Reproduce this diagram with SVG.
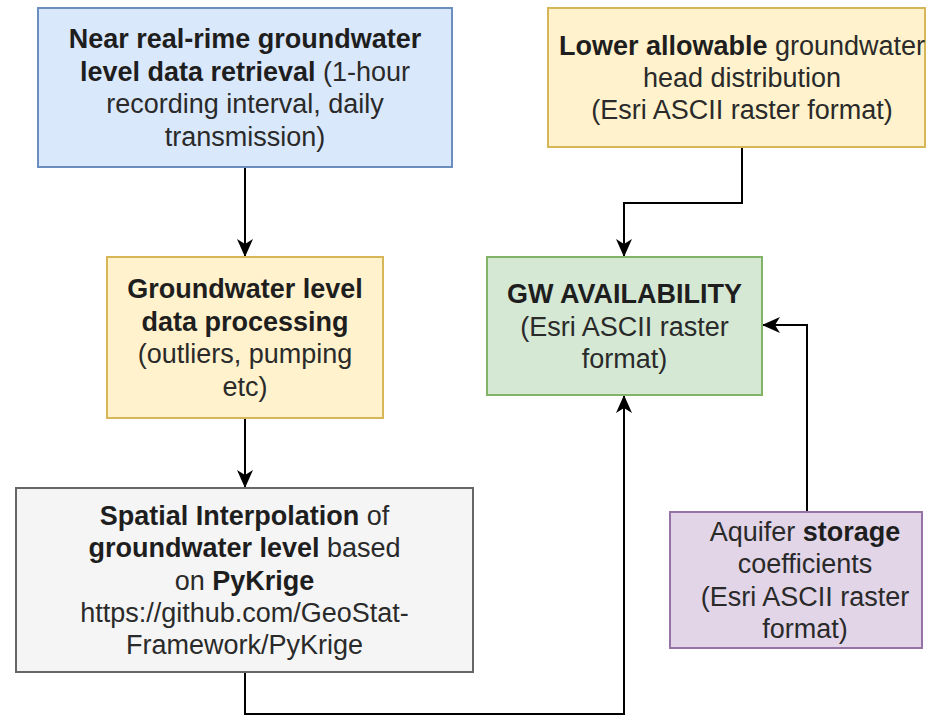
<svg xmlns="http://www.w3.org/2000/svg" width="927" height="716" viewBox="0 0 927 716">
  <defs>
    <style>
      .t { font-family: "Liberation Sans", Arial, Helvetica, sans-serif; font-size: 27px; fill: #2a2a2a; text-anchor: middle; }
      .b { font-weight: bold; fill: #1e1e1e; }
      .box { stroke-width: 2; }
      .blue { fill: #dae8fc; stroke: #6c8ebf; }
      .yellow { fill: #fff2cc; stroke: #d6b656; }
      .green { fill: #d5e8d4; stroke: #82b366; }
      .gray { fill: #f5f5f5; stroke: #666666; }
      .purple { fill: #e1d5e7; stroke: #9673a6; }
      .edge { fill: none; stroke: #000; stroke-width: 2; }
    </style>
    <marker id="arrow" viewBox="0 0 18 18" refX="17" refY="9" markerWidth="18" markerHeight="18" markerUnits="userSpaceOnUse" orient="auto">
      <path d="M0,1 L18,9 L0,17 L5,9 Z" fill="#000"/>
    </marker>
  </defs>
  <rect width="927" height="716" fill="#fff"/>

  <g id="connectors">
    <path class="edge" d="M245,167 L245,256" marker-end="url(#arrow)"/>
    <path class="edge" d="M245,418 L245,487" marker-end="url(#arrow)"/>
    <path class="edge" d="M742,147 L742,203 L624,203 L624,256" marker-end="url(#arrow)"/>
    <path class="edge" d="M807,512 L807,325 L763,325" marker-end="url(#arrow)"/>
    <path class="edge" d="M245,672 L245,714 L624,714 L624,396" marker-end="url(#arrow)"/>
  </g>

  <g id="node-retrieval">
    <rect class="box blue" x="38" y="8" width="414" height="159"/>
    <text class="t" x="245" y="48"><tspan class="b">Near real-rime groundwater</tspan></text>
    <text class="t" x="245" y="80.5"><tspan class="b">level data retrieval</tspan> (1-hour</text>
    <text class="t" x="245" y="113">recording interval, daily</text>
    <text class="t" x="245" y="145.5">transmission)</text>
  </g>

  <g id="node-lower-head">
    <rect class="box yellow" x="548" y="8" width="377" height="139"/>
    <text class="t" x="742" y="54.6"><tspan class="b">Lower allowable</tspan> groundwater</text>
    <text class="t" x="742" y="87">head distribution</text>
    <text class="t" x="742" y="119.4">(Esri ASCII raster format)</text>
  </g>

  <g id="node-processing">
    <rect class="box yellow" x="107" y="257" width="276" height="161"/>
    <text class="t b" x="245" y="298.4">Groundwater level</text>
    <text class="t b" x="245" y="330.8">data processing</text>
    <text class="t" x="245" y="363.2">(outliers, pumping</text>
    <text class="t" x="245" y="395.6">etc)</text>
  </g>

  <g id="node-availability">
    <rect class="box green" x="487" y="257" width="275" height="138"/>
    <text class="t b" x="624.5" y="303">GW AVAILABILITY</text>
    <text class="t" x="624.5" y="335.5">(Esri ASCII raster</text>
    <text class="t" x="624.5" y="368">format)</text>
  </g>

  <g id="node-interpolation">
    <rect class="box gray" x="16" y="488" width="457" height="184"/>
    <text class="t" x="244.5" y="524.7"><tspan class="b">Spatial Interpolation</tspan> of</text>
    <text class="t" x="244.5" y="557"><tspan class="b">groundwater level</tspan> based</text>
    <text class="t" x="244.5" y="589.5">on <tspan class="b">PyKrige</tspan></text>
    <text class="t" x="244.5" y="622">https://github.com/GeoStat-</text>
    <text class="t" x="244.5" y="654.3">Framework/PyKrige</text>
  </g>

  <g id="node-storage">
    <rect class="box purple" x="670" y="512" width="252" height="136"/>
    <text class="t" x="805" y="541">Aquifer <tspan class="b">storage</tspan></text>
    <text class="t" x="805" y="573.3">coefficients</text>
    <text class="t" x="805" y="605.7">(Esri ASCII raster</text>
    <text class="t" x="805" y="638">format)</text>
  </g>
</svg>
